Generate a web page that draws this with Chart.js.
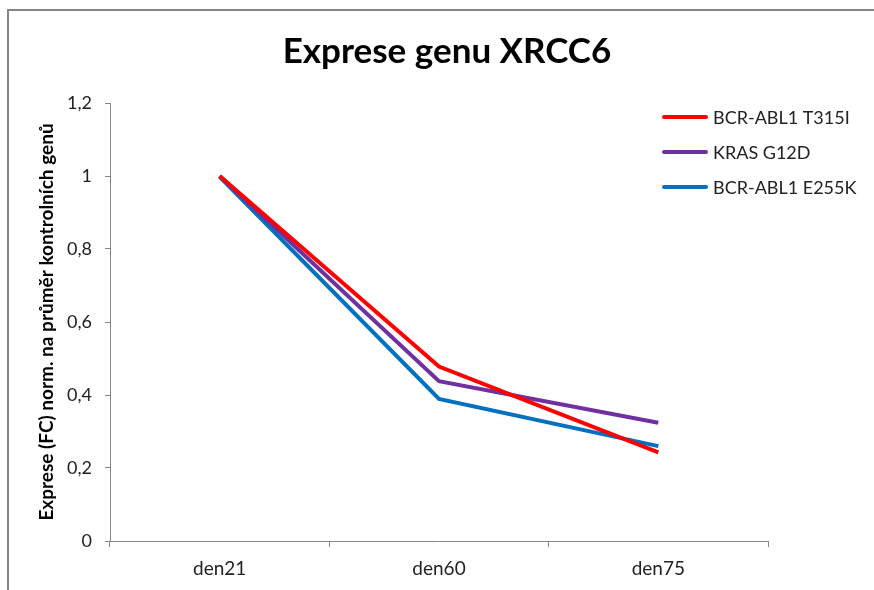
<!DOCTYPE html>
<html>
<head>
<meta charset="utf-8">
<script src="https://cdn.jsdelivr.net/npm/chart.js@4"></script>
<style>
  html, body { margin: 0; padding: 0; background: #fff; }
  #wrap { width: 874px; height: 590px; position: relative; }
</style>
</head>
<body>
<div id="wrap"><canvas id="xrccChart" width="874" height="590"></canvas></div>
<script>
const days = ["den21", "den60", "den75"];
const seriesNames = ["BCR-ABL1 T315I", "KRAS G12D", "BCR-ABL1 E255K"];
const t315i = [1.0, 0.478, 0.243];
const krasG12d = [1.0, 0.438, 0.324];
const e255k = [0.998, 0.389, 0.26];
const yTicks = [0, 0.2, 0.4, 0.6, 0.8, 1, 1.2];
const chartTitle = "Exprese genu XRCC6";

const lineColors = ["#FF0000", "#7030A0", "#0070C0"];
const fontFam = "Lato, 'Open Sans', sans-serif";

// frame around the whole chart (gray border, cut at right/bottom) + title
const framePlugin = {
  id: "frame",
  beforeDraw(chart) {
    const ctx = chart.ctx;
    ctx.save();
    ctx.fillStyle = "#fff";
    ctx.fillRect(0, 0, chart.width, chart.height);
    ctx.strokeStyle = "#868686";
    ctx.lineWidth = 2;
    ctx.strokeRect(8, 10, chart.width + 20, chart.height + 20);
    ctx.fillStyle = "#000";
    ctx.font = "bold 35px " + fontFam;
    ctx.textAlign = "center";
    ctx.textBaseline = "middle";
    ctx.fillText(chartTitle, 447, 52);
    ctx.restore();
  }
};

// legend drawn at the upper right like the original
const sideLegend = {
  id: "sideLegend",
  afterDraw(chart) {
    const ctx = chart.ctx;
    ctx.save();
    ctx.font = "18px " + fontFam;
    ctx.textBaseline = "middle";
    chart.data.datasets.forEach((ds, i) => {
      const y = 117 + i * 35;
      ctx.strokeStyle = ds.borderColor;
      ctx.lineWidth = 4;
      ctx.lineCap = "round";
      ctx.beginPath();
      ctx.moveTo(664, y);
      ctx.lineTo(706, y);
      ctx.stroke();
      ctx.fillStyle = "#222";
      ctx.fillText(ds.label, 713, y + 1);
    });
    ctx.restore();
  }
};

const ctx = document.getElementById("xrccChart").getContext("2d");
new Chart(ctx, {
  type: "line",
  data: {
    labels: days,
    datasets: [t315i, krasG12d, e255k].map((vals, i) => ({
      label: seriesNames[i],
      data: vals,
      borderColor: lineColors[i],
      backgroundColor: lineColors[i],
      borderWidth: 4,
      pointRadius: 0,
      tension: 0,
      fill: false
    }))
  },
  options: {
    responsive: false,
    animation: false,
    layout: { padding: { left: 35, right: 106, bottom: 10, top: 103 } },
    plugins: {
      legend: { display: false },
      tooltip: { enabled: false },
      title: { display: false }
    },
    scales: {
      x: {
        offset: true,
        grid: { drawOnChartArea: false, offset: true, tickLength: 6, color: "#868686" },
        border: { color: "#868686", width: 1 },
        ticks: { color: "#222", font: { family: fontFam, size: 19 }, padding: 10 },
        afterFit(s) { s.height = 39; }
      },
      y: {
        min: 0,
        max: 1.2,
        afterBuildTicks(s) { s.ticks = yTicks.map(v => ({ value: v })); },
        grid: { drawOnChartArea: false, tickLength: 5, color: "#868686" },
        border: { color: "#868686", width: 1 },
        ticks: {
          color: "#222",
          font: { family: fontFam, size: 18 },
          padding: 13,
          callback: v => String(v).replace(".", ",")
        },
        title: {
          display: true,
          text: "Exprese (FC) norm. na průměr kontrolních genů",
          color: "#000",
          font: { family: fontFam, size: 19, weight: "bold" },
          padding: { top: 0, bottom: 6 }
        },
        afterFit(s) { s.width = 75; }
      }
    }
  },
  plugins: [framePlugin, sideLegend]
});
</script>
</body>
</html>
